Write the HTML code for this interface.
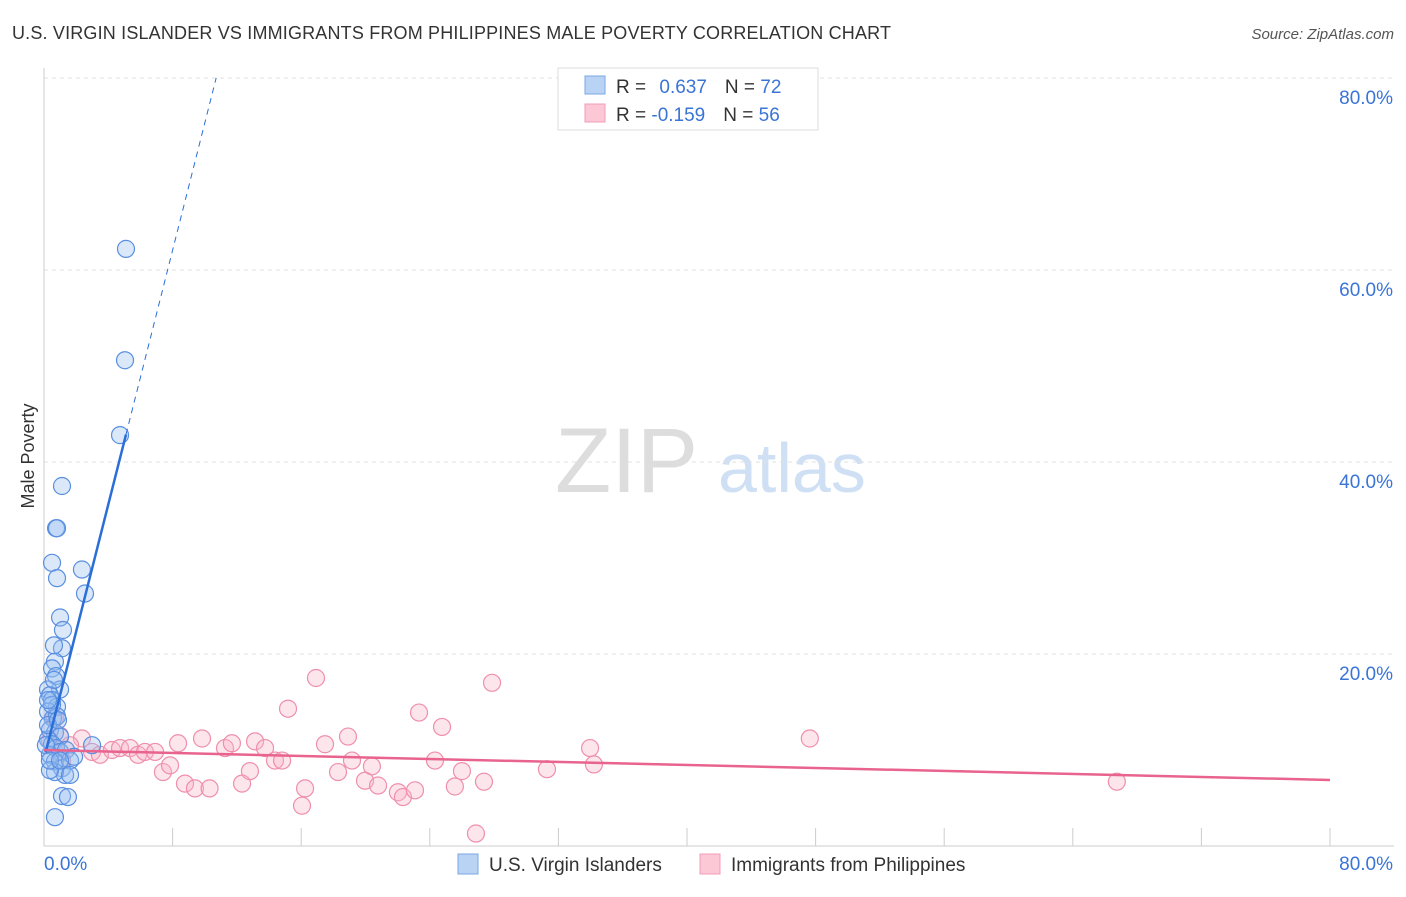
<!DOCTYPE html>
<html><head><meta charset="utf-8"><style>
body{margin:0;background:#fff;font-family:"Liberation Sans",sans-serif}
svg text{font-family:"Liberation Sans",sans-serif}
</style></head><body>
<svg id="c" width="1406" height="892">
<text x="12" y="39" font-size="18" fill="#333" textLength="879">U.S. VIRGIN ISLANDER VS IMMIGRANTS FROM PHILIPPINES MALE POVERTY CORRELATION CHART</text>
<text x="1394" y="39" font-size="15" fill="#555" text-anchor="end" font-style="italic">Source: ZipAtlas.com</text>
<text x="34" y="456" font-size="18" fill="#333" text-anchor="middle" transform="rotate(-90 34 456)">Male Poverty</text>
<text x="555" y="492" font-size="92" fill="#ddd" font-family="Liberation Serif">ZIP</text>
<text x="718" y="492" font-size="70" fill="#cfe0f5">atlas</text>
<g id="grid"></g><g id="pts"></g><g id="lines"></g>
<g>
<rect x="558" y="68" width="260" height="62" fill="#fff" stroke="#ddd"/>
<rect x="585" y="76" width="20" height="18" fill="#b9d3f5" stroke="#7aa7e6"/>
<rect x="585" y="104" width="20" height="18" fill="#fcc8d6" stroke="#ef9db5"/>
<text x="616" y="93" font-size="19" fill="#333">R = <tspan fill="#3a74d6" dx="8">0.637</tspan><tspan dx="18" fill="#333">N = </tspan><tspan fill="#3a74d6">72</tspan></text>
<text x="616" y="121" font-size="19" fill="#333">R = <tspan fill="#3a74d6">-0.159</tspan><tspan dx="18" fill="#333">N = </tspan><tspan fill="#3a74d6">56</tspan></text>
</g>
<g>
<rect x="458" y="854" width="20" height="20" fill="#b9d3f5" stroke="#7aa7e6"/>
<text x="489" y="871" font-size="19" fill="#333">U.S. Virgin Islanders</text>
<rect x="700" y="854" width="20" height="20" fill="#fcc8d6" stroke="#ef9db5"/>
<text x="731" y="871" font-size="19" fill="#333">Immigrants from Philippines</text>
</g>
</svg>
<script>
const blueX=[5.1,5.04,4.73,1.12,0.75,0.81,0.5,0.81,2.36,2.55,1.0,1.18,1.12,0.62,0.68,0.5,0.75,1.0,0.25,0.37,0.5,0.81,0.25,0.56,0.81,0.37,0.68,1.0,0.25,0.5,0.75,1.0,1.37,0.37,0.68,1.12,1.62,2.99,1.87,1.31,0.68,1.62,1.12,1.49,0.68,0.37,0.25,0.5,0.87,0.12,0.37,1.0,0.62,0.25];
const blueY=[62.2,50.6,42.8,37.5,33.1,33.1,29.5,27.9,28.8,26.3,23.8,22.5,20.6,20.9,19.2,18.5,17.7,16.3,16.3,15.7,15.2,14.5,14.0,13.3,13.5,12.1,11.8,11.4,11.1,10.6,10.2,9.8,10.0,9.5,8.8,8.1,8.9,10.5,9.3,7.4,7.7,7.4,5.2,5.1,3.0,7.9,12.6,14.7,13.1,10.5,8.9,8.9,17.3,15.2];
const pinkX=[2.36,2.99,3.48,4.23,4.73,5.35,5.85,6.28,6.91,7.4,7.84,8.34,8.77,9.39,9.83,10.3,11.26,11.69,12.32,12.81,13.13,13.75,14.37,14.81,15.18,16.05,16.24,16.92,17.48,18.29,18.91,19.16,19.97,20.4,20.78,22.02,22.33,23.08,23.33,24.32,24.76,25.56,26.0,26.87,27.37,27.87,31.29,33.97,34.21,47.64,66.74,0.99,0.68,1.62,1.12,0.37];
const pinkY=[11.2,9.8,9.5,10.0,10.2,10.2,9.5,9.8,9.8,7.7,8.4,10.7,6.5,6.0,11.2,6.0,10.2,10.7,6.5,7.8,10.9,10.2,8.9,8.9,14.3,4.2,6.0,17.5,10.6,7.7,11.4,8.9,6.8,8.3,6.3,5.6,5.1,5.8,13.9,8.9,12.4,6.2,7.8,1.3,6.7,17.0,8.0,10.2,8.5,11.2,6.7,11.5,13.3,10.5,8.9,11.0];
const yTicks=[20,40,60,80], yTickLabels=["20.0%","40.0%","60.0%","80.0%"];
const blueTrend=[9.1,6.62], pinkTrend=[10.0,-0.039];
const X=v=>44+v*16.075, Y=v=>846-v*9.6;
const NS="http://www.w3.org/2000/svg";
function mk(t,a,p){const e=document.createElementNS(NS,t);for(const k in a)e.setAttribute(k,a[k]);p.appendChild(e);return e;}
const g=document.getElementById('grid');
yTicks.forEach((t,i)=>{
 const l=mk('line',{x1:44,x2:1394,y1:Y(t),y2:Y(t),stroke:'#e0e0e0','stroke-dasharray':'4,4'},g);
 
 
 const tx=mk('text',{x:1393,y:Y(t)+26,'font-size':19,fill:'#3a74d6','text-anchor':'end'},g);
 tx.textContent=yTickLabels[i];
 
 
});
mk('line',{x1:44,x2:44,y1:68,y2:846,stroke:'#ccc'},g);
mk('line',{x1:44,x2:1394,y1:846,y2:846,stroke:'#ccc'},g);
for(let i=1;i<=10;i++){mk('line',{x1:44+i*128.6,x2:44+i*128.6,y1:828,y2:846,stroke:'#ccc'},g);}
let t0=mk('text',{x:44,y:870,'font-size':19,fill:'#3a74d6'},g);t0.textContent='0.0%';


let t1=mk('text',{x:1393,y:870,'font-size':19,fill:'#3a74d6','text-anchor':'end'},g);t1.textContent='80.0%';


const p=document.getElementById('pts');
pinkX.forEach((x,i)=>{const c=mk('circle',{cx:X(x),cy:Y(pinkY[i]),r:8.5,fill:'rgba(248,180,200,0.35)',stroke:'#ef8fac','stroke-width':1.2},p);
 
 });
blueX.forEach((x,i)=>{const c=mk('circle',{cx:X(x),cy:Y(blueY[i]),r:8.5,fill:'rgba(150,190,240,0.35)',stroke:'#5a8fe0','stroke-width':1.2},p);
 
 });
const L=document.getElementById('lines');
const bl=mk('line',{x1:X(0.1),y1:Y(blueTrend[0]+blueTrend[1]*0.1),x2:X(5.1),y2:Y(blueTrend[0]+blueTrend[1]*5.1),stroke:'#2a6fd8','stroke-width':2.5},L);


const xe=(80-blueTrend[0])/blueTrend[1];
const bd=mk('line',{x1:X(5.1),y1:Y(blueTrend[0]+blueTrend[1]*5.1),x2:X(xe),y2:Y(80),stroke:'#2a6fd8','stroke-width':1,'stroke-dasharray':'6,5'},L);


const pl=mk('line',{x1:X(0),y1:Y(pinkTrend[0]),x2:X(80),y2:Y(pinkTrend[0]+pinkTrend[1]*80),stroke:'#e8638e','stroke-width':2.5},L);


</script>
</body></html>
